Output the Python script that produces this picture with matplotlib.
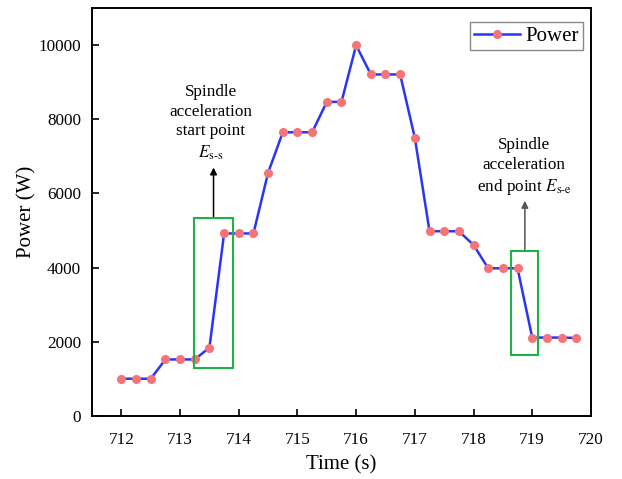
import matplotlib.pyplot as plt
from matplotlib.patches import Rectangle

plt.rcParams['font.family'] = ['Liberation Serif', 'DejaVu Serif']
plt.rcParams['mathtext.fontset'] = 'stix'

time_s = [712.0, 712.25, 712.5, 712.75, 713.0, 713.25, 713.5, 713.75,
          714.0, 714.25, 714.5, 714.75, 715.0, 715.25, 715.5, 715.75,
          716.0, 716.25, 716.5, 716.75, 717.0, 717.25, 717.5, 717.75,
          718.0, 718.25, 718.5, 718.75, 719.0, 719.25, 719.5, 719.75]
power_w = [1000, 1000, 1000, 1520, 1520, 1520, 1840, 4920,
           4920, 4920, 6560, 7650, 7650, 7650, 8470, 8470,
           10000, 9210, 9210, 9210, 7500, 4980, 4980, 4980,
           4610, 3980, 3980, 3980, 2110, 2110, 2110, 2100]

x_ticks = [712, 713, 714, 715, 716, 717, 718, 719, 720]
y_ticks = [0, 2000, 4000, 6000, 8000, 10000]

fig, ax = plt.subplots(figsize=(6.22, 4.79), dpi=100)
fig.subplots_adjust(left=0.148, right=0.95, top=0.983, bottom=0.132)

ax.plot(time_s, power_w, color='#2a35f5', linewidth=1.8, marker='o',
        markersize=5.5, markerfacecolor='#f47478', markeredgecolor='#f47478',
        label='Power', zorder=3)

# highlight boxes
ax.add_patch(Rectangle((713.24, 1280), 0.67, 4050, fill=False,
                       edgecolor='#1db347', linewidth=1.5, zorder=4))
ax.add_patch(Rectangle((718.64, 1640), 0.46, 2815, fill=False,
                       edgecolor='#1db347', linewidth=1.5, zorder=4))

# arrows
ax.annotate('', xy=(713.57, 6700), xytext=(713.57, 5330),
            arrowprops=dict(arrowstyle='-|>', color='black', lw=1.1,
                            mutation_scale=10, shrinkA=0, shrinkB=0))
ax.annotate('', xy=(718.875, 5800), xytext=(718.875, 4455),
            arrowprops=dict(arrowstyle='-|>', color='#555555', lw=1.1,
                            mutation_scale=10, shrinkA=0, shrinkB=0))

ax.text(713.52, 8950, 'Spindle\nacceleration\nstart point\n$E$' + r'$_{\mathrm{s\text{-}s}}$',
        ha='center', va='top', fontsize=12.3, linespacing=1.3)
ax.text(718.86, 7520, 'Spindle\nacceleration\nend point $E$' + r'$_{\mathrm{s\text{-}e}}$',
        ha='center', va='top', fontsize=12.3, linespacing=1.3)

ax.set_xlim(711.5, 720)
ax.set_ylim(0, 11000)
ax.set_xticks(x_ticks)
ax.set_yticks(y_ticks)
ax.tick_params(direction='in', length=5, width=1.2, labelsize=12.3)
ax.tick_params(axis='x', pad=12)
ax.tick_params(axis='y', pad=8)
for s in ax.spines.values():
    s.set_linewidth(1.4)

ax.set_xlabel('Time (s)', fontsize=15, labelpad=5)
ax.set_ylabel('Power (W)', fontsize=15, labelpad=1)

leg = ax.legend(loc='upper right', bbox_to_anchor=(0.985, 0.965), fontsize=15,
                fancybox=False, edgecolor='#888888', framealpha=1,
                handlelength=2.2, borderpad=0.2, handletextpad=0.3,
                borderaxespad=0)
leg.get_frame().set_linewidth(1.0)

fig.savefig('out.png', dpi=100)
